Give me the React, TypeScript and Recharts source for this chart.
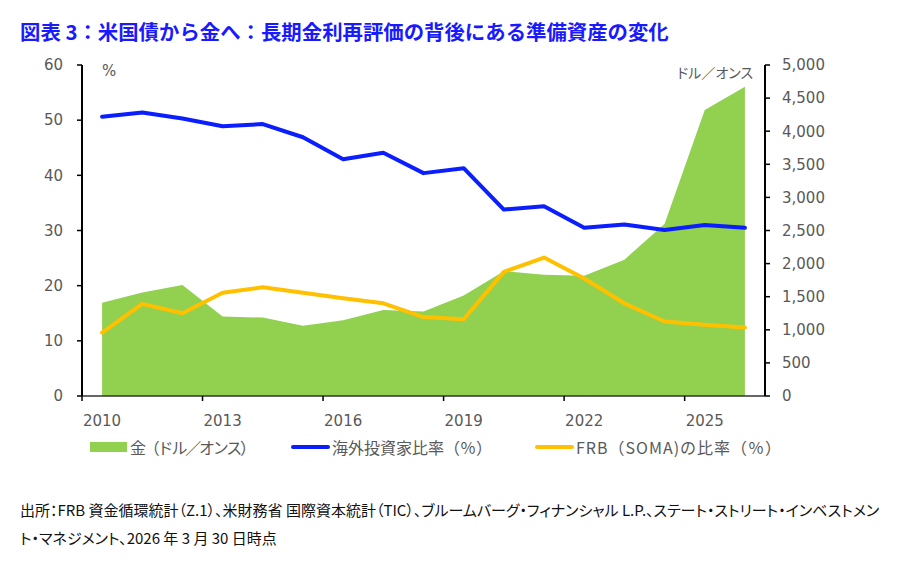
import React from "react";
import { ComposedChart, Area, Line, XAxis, YAxis } from "recharts";

// year-end values; the last point is the latest reading (2026-03-30)
const YEARS = [2010, 2011, 2012, 2013, 2014, 2015, 2016, 2017, 2018, 2019, 2020, 2021, 2022, 2023, 2024, 2025, 2026];
const GOLD_PRICE = [1410, 1565, 1677, 1200, 1185, 1060, 1146, 1300, 1275, 1520, 1885, 1830, 1815, 2060, 2600, 4320, 4670];
const FOREIGN_SHARE = [50.6, 51.4, 50.3, 48.9, 49.3, 46.9, 42.9, 44.1, 40.4, 41.3, 33.8, 34.4, 30.5, 31.1, 30.1, 31.0, 30.5];
const FRB_SHARE = [11.5, 16.7, 15.0, 18.7, 19.7, 18.7, 17.7, 16.8, 14.3, 13.9, 22.5, 25.1, 21.3, 16.8, 13.5, 12.9, 12.4];

const X_TICKS = [2010, 2013, 2016, 2019, 2022, 2025];
const LEFT_TICKS = [0, 10, 20, 30, 40, 50, 60];
const RIGHT_TICKS = [0, 500, 1000, 1500, 2000, 2500, 3000, 3500, 4000, 4500, 5000];

const TITLE = "図表 3：米国債から金へ：長期金利再評価の背後にある準備資産の変化";
const LEGEND_GOLD = "金（ドル／オンス）";
const LEGEND_FOREIGN = "海外投資家比率（％）";
const LEGEND_FRB = "FRB（SOMA)の比率（％）";
const NOTE_1 =
  "出所：FRB 資金循環統計（Z.1）、米財務省 国際資本統計（TIC）、ブルームバーグ・フィナンシャル L.P.、ステート・ストリート・インベストメン";
const NOTE_2 = "ト・マネジメント、2026 年 3 月 30 日時点";

// each year is a category; points sit in the middle of their year
const data = YEARS.map((y, i) => ({
  pos: y + 0.5,
  gold: GOLD_PRICE[i],
  foreign: FOREIGN_SHARE[i],
  frb: FRB_SHARE[i],
}));

// tick marks on the year boundaries, labels in the middle of the year
const X_AXIS_TICKS = X_TICKS.flatMap((t) => [t, t + 0.5]);

const JP = '"Noto Sans CJK JP", "Noto Sans", sans-serif';
const NUM = '"DejaVu Sans", Verdana, sans-serif';
const GRAY = "#595959";
const GREEN = "#92D050";
const BLUE = "#0A1EFF";
const AMBER = "#FFC000";

const tickStyle = { fill: GRAY, fontSize: 15, fontFamily: NUM };

function YearTick({ x, y, payload }: any) {
  const v = payload.value as number;
  if (Number.isInteger(v)) {
    return <line x1={x} y1={y} x2={x} y2={y + 5} stroke="#000" strokeWidth={1.5} />;
  }
  return (
    <text x={x} y={y + 19} dy="0.71em" textAnchor="middle" fill={GRAY} stroke="none" fontSize={15} fontFamily={NUM}>
      {Math.floor(v)}
    </text>
  );
}

function LegendItem({
  left,
  kind,
  color,
  label,
  spacing = 0,
}: {
  left: number;
  kind: "box" | "line";
  color: string;
  label: string;
  spacing?: number;
}) {
  return (
    <div style={{ position: "absolute", left, top: 436, height: 22, display: "flex", alignItems: "center" }}>
      {kind === "box" ? (
        <div style={{ width: 37, height: 10, background: color }} />
      ) : (
        <div style={{ width: 39, height: 4, borderRadius: 2, background: color }} />
      )}
      <span
        style={{
          marginLeft: kind === "box" ? 3 : 2,
          fontFamily: JP,
          fontSize: 16,
          color: GRAY,
          letterSpacing: spacing,
          whiteSpace: "nowrap",
        }}
      >
        {label}
      </span>
    </div>
  );
}

export default function App() {
  return (
    <div style={{ position: "absolute", left: 0, top: 0, width: 902, height: 563, background: "#fff", overflow: "hidden" }}>
      <div
        style={{
          position: "absolute",
          left: 20,
          top: 19,
          lineHeight: "24px",
          fontFamily: JP,
          fontWeight: 700,
          fontSize: 20.4,
          color: "#1A1AFF",
          whiteSpace: "nowrap",
        }}
      >
        {TITLE}
      </div>

      <div style={{ position: "absolute", left: 0, top: 0 }}>
        <ComposedChart width={902} height={440} data={data} margin={{ top: 65, right: 57, left: 20, bottom: 4 }}>
          <XAxis
            dataKey="pos"
            type="number"
            domain={[2010, 2027]}
            allowDataOverflow
            ticks={X_AXIS_TICKS}
            interval={0}
            tick={YearTick}
            tickLine={false}
            tickSize={0}
            tickMargin={0}
            height={40}
            axisLine={{ stroke: "#333", strokeWidth: 1.5 }}
          />
          <YAxis
            yAxisId="left"
            domain={[0, 60]}
            ticks={LEFT_TICKS}
            width={62}
            tickSize={5}
            tickMargin={14}
            axisLine={{ stroke: "#000", strokeWidth: 2 }}
            tickLine={{ stroke: "#000", strokeWidth: 1.5 }}
            tick={tickStyle}
          />
          <YAxis
            yAxisId="right"
            orientation="right"
            domain={[0, 5000]}
            ticks={RIGHT_TICKS}
            tickFormatter={(v: number) => v.toLocaleString("en-US")}
            width={80}
            tickSize={5}
            tickMargin={12}
            axisLine={{ stroke: "#000", strokeWidth: 2 }}
            tickLine={{ stroke: "#000", strokeWidth: 1.5 }}
            tick={{ ...tickStyle, textAnchor: "start" }}
          />
          <Area
            yAxisId="right"
            type="linear"
            dataKey="gold"
            fill={GREEN}
            fillOpacity={1}
            stroke="none"
            isAnimationActive={false}
          />
          <Line
            yAxisId="left"
            type="linear"
            dataKey="foreign"
            stroke={BLUE}
            strokeWidth={4}
            strokeLinejoin="round"
            strokeLinecap="round"
            dot={false}
            isAnimationActive={false}
          />
          <Line
            yAxisId="left"
            type="linear"
            dataKey="frb"
            stroke={AMBER}
            strokeWidth={4}
            strokeLinejoin="round"
            strokeLinecap="round"
            dot={false}
            isAnimationActive={false}
          />
        </ComposedChart>
      </div>

      <div style={{ position: "absolute", left: 102, top: 62, fontFamily: NUM, fontSize: 15, color: GRAY }}>%</div>
      <div
        style={{
          position: "absolute",
          right: 902 - 753,
          top: 62,
          fontFamily: JP,
          fontSize: 14,
          color: GRAY,
          fontFeatureSettings: '"palt"',
          whiteSpace: "nowrap",
        }}
      >
        ドル／オンス
      </div>

      <LegendItem left={90} kind="box" color={GREEN} label={LEGEND_GOLD} spacing={-2.2} />
      <LegendItem left={291} kind="line" color={BLUE} label={LEGEND_FOREIGN} />
      <LegendItem left={535} kind="line" color={AMBER} label={LEGEND_FRB} spacing={1} />

      {[NOTE_1, NOTE_2].map((t, i) => (
        <div
          key={i}
          style={{
            position: "absolute",
            left: 20,
            top: 500 + i * 28,
            lineHeight: "20px",
            fontFamily: JP,
            fontSize: 15,
            color: "#111",
            fontFeatureSettings: '"palt"',
            whiteSpace: "nowrap",
          }}
        >
          {t}
        </div>
      ))}
    </div>
  );
}
